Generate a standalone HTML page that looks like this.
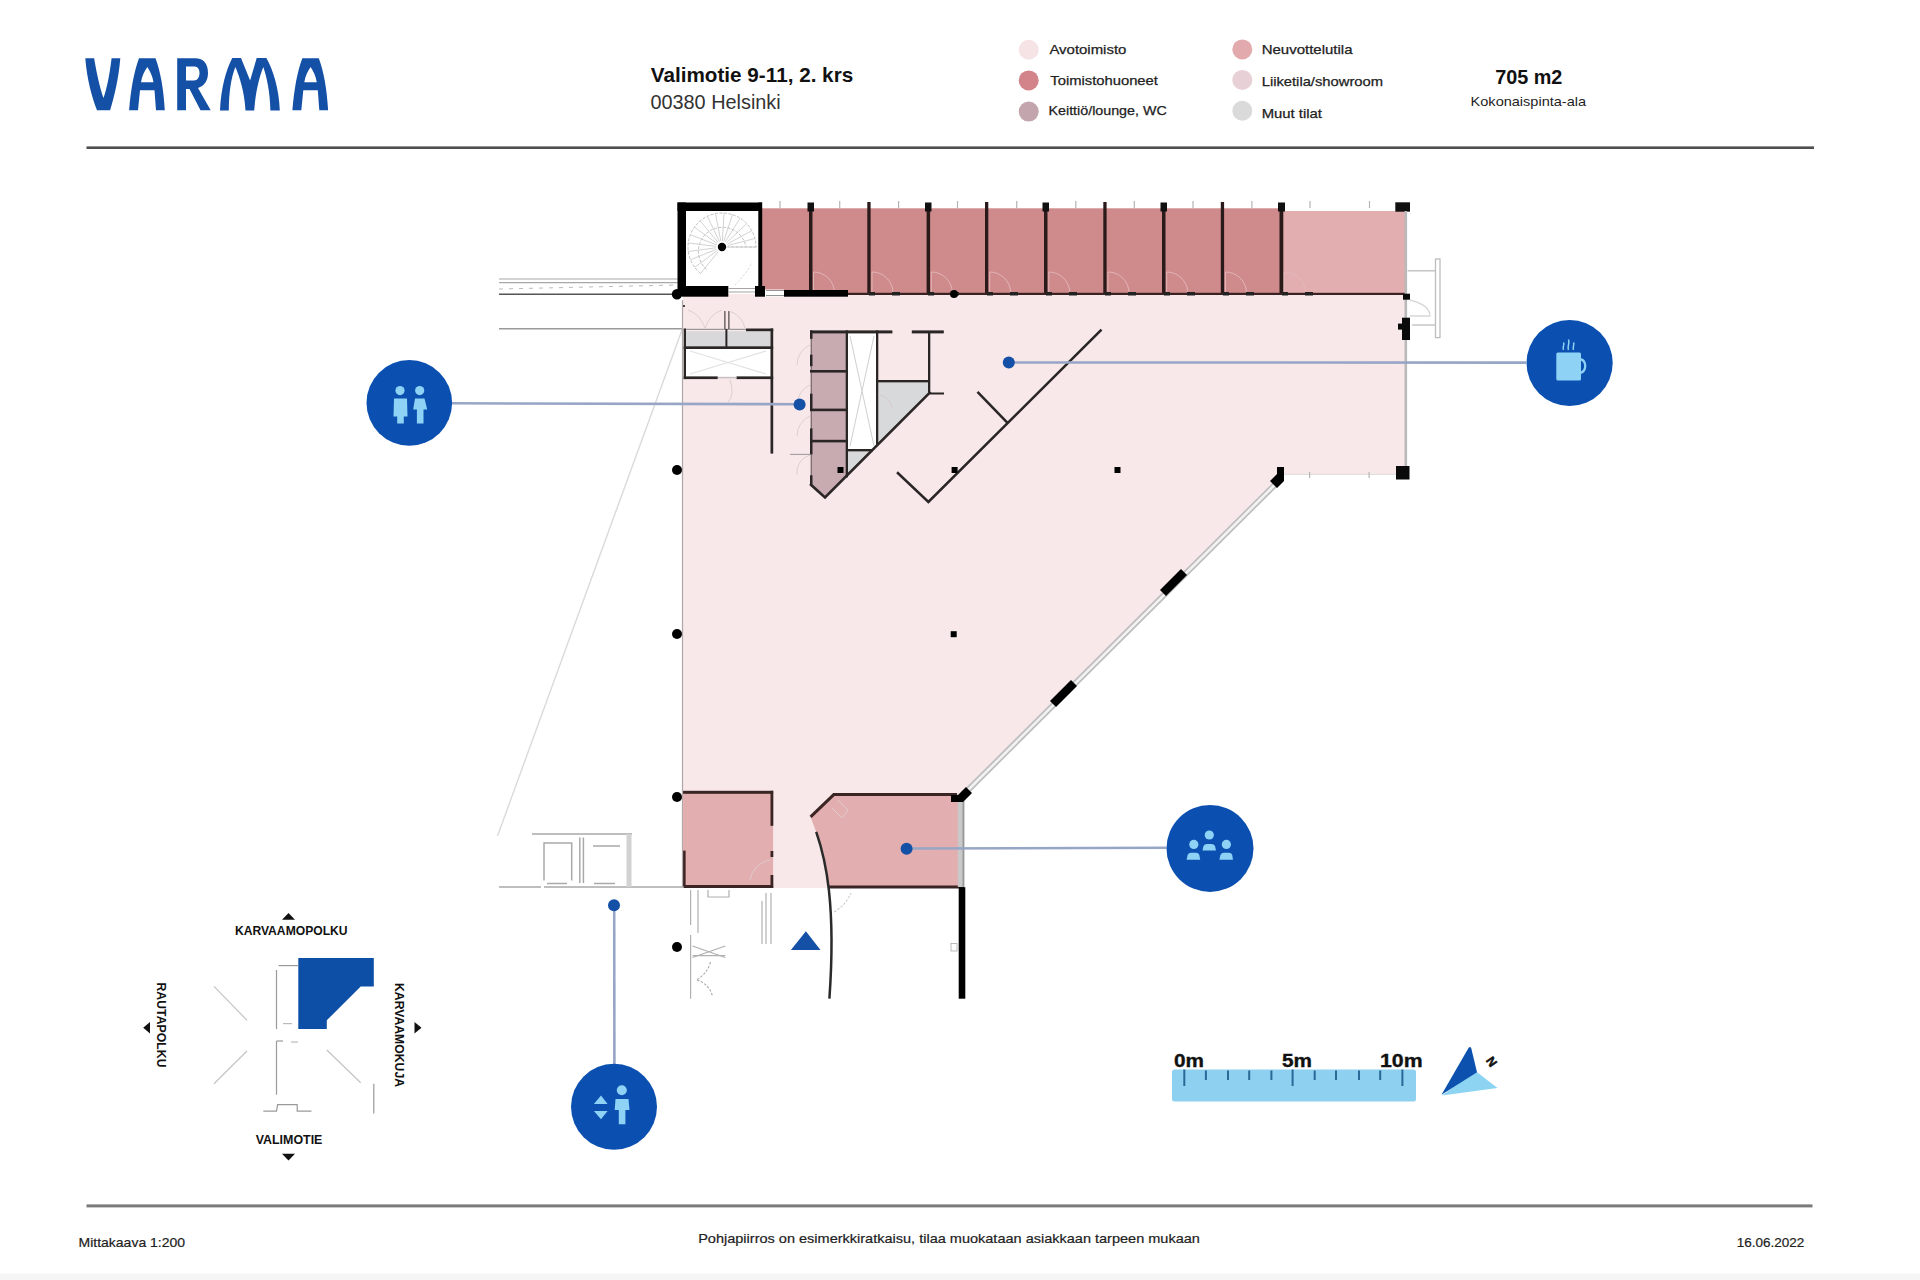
<!DOCTYPE html>
<html><head><meta charset="utf-8">
<style>
html,body{margin:0;padding:0;background:#fff;width:1920px;height:1280px;overflow:hidden}
svg{position:absolute;left:0;top:0;display:block}
text{font-family:"Liberation Sans",sans-serif}
</style></head><body>
<svg width="1920" height="1280" viewBox="0 0 1920 1280">
<rect x="0" y="1273.5" width="1920" height="6.5" fill="#f5f5f5"/>
<!-- LOGO -->
<g fill="#1450a6">
<path d="M85.3,58.2 L94.1,58.2 C97,75 100,88 103.5,98 C107,88 109.5,75 111.6,58.2 L120.3,58.2 C118.5,80 114,97 110.1,110.3 L97,110.3 C92,97 87,80 85.3,58.2 Z"/>
<path fill-rule="evenodd" d="M129.1,110.3 C131,88 134,72 139,58.2 L155.5,58.2 C160.5,72 163.5,88 164.8,110.3 L156,110.3 L154.5,90.3 L140,90.3 L138,110.3 Z M141,82.3 L153.5,82.3 C152.5,76 150,71 147.3,67 C144.5,71 142,76 141,82.3 Z"/>
<path fill-rule="evenodd" d="M177.2,110.3 L177.2,58.2 L195,58.2 C204,58.2 208,64 208,73 C208,81 204,86 198,88 L210.7,110.3 L200.5,110.3 L189.5,89 L186,89 L186,110.3 Z M186,66.5 L194.5,66.5 C198,66.5 199.5,69.5 199.5,73 C199.5,77 197.5,80.5 194,80.5 L186,80.5 Z"/>
<path d="M220,110.5 C221,88 226,70 232.3,58 L241,58 L250.1,80.5 L256.7,58 L266.4,58 C273,70 279,88 279.8,110.5 L270.4,110.5 C270,92 267,78 263.3,67 C259,78 255.5,92 254.2,110.5 L245.5,110.5 C244.5,92 240,78 235.4,67 C231,78 229,92 228.8,110.5 Z"/>
<path fill-rule="evenodd" transform="translate(163.3,0)" d="M129.1,110.3 C131,88 134,72 139,58.2 L155.5,58.2 C160.5,72 163.5,88 164.8,110.3 L156,110.3 L154.5,90.3 L140,90.3 L138,110.3 Z M141,82.3 L153.5,82.3 C152.5,76 150,71 147.3,67 C144.5,71 142,76 141,82.3 Z"/>
</g>
<!-- HEADER TEXT -->
<text x="650.8" y="82" font-size="20.5" font-weight="bold" fill="#111" textLength="202.4" lengthAdjust="spacingAndGlyphs">Valimotie 9-11, 2. krs</text>
<text x="650.4" y="108.9" font-size="19.5" fill="#333" textLength="130.3" lengthAdjust="spacingAndGlyphs">00380 Helsinki</text>
<!-- legend -->
<g>
<circle cx="1028.7" cy="49.8" r="10" fill="#f6e3e5"/>
<circle cx="1028.7" cy="80.4" r="10" fill="#d3838a"/>
<circle cx="1028.7" cy="111.6" r="10" fill="#c3a5ad"/>
<circle cx="1242.3" cy="49.4" r="10" fill="#e3aaae"/>
<circle cx="1242.3" cy="79.9" r="10" fill="#e8d1d6"/>
<circle cx="1242.3" cy="110.8" r="10" fill="#dadada"/>
</g>
<g font-size="13" fill="#222" stroke="#222" stroke-width="0.25">
<text x="1049.4" y="53.8" textLength="77" lengthAdjust="spacingAndGlyphs">Avotoimisto</text>
<text x="1050.3" y="85.2" textLength="107.6" lengthAdjust="spacingAndGlyphs">Toimistohuoneet</text>
<text x="1048.5" y="115.4" textLength="118.2" lengthAdjust="spacingAndGlyphs">Keittiö/lounge, WC</text>
<text x="1261.7" y="54" textLength="90.8" lengthAdjust="spacingAndGlyphs">Neuvottelutila</text>
<text x="1261.7" y="86.2" textLength="121.3" lengthAdjust="spacingAndGlyphs">Liiketila/showroom</text>
<text x="1261.7" y="117.5" textLength="60.3" lengthAdjust="spacingAndGlyphs">Muut tilat</text>
</g>
<text x="1495.2" y="84.2" font-size="19.8" font-weight="bold" fill="#111" textLength="67.2" lengthAdjust="spacingAndGlyphs">705 m2</text>
<text x="1470.6" y="105.6" font-size="13.3" fill="#1e1e1e" textLength="115.5" lengthAdjust="spacingAndGlyphs">Kokonaispinta-ala</text>
<rect x="86.5" y="146.4" width="1727.5" height="2.6" fill="#4f4f4f"/>
<!-- FOOTER -->
<rect x="86.5" y="1204.4" width="1726" height="3" fill="#7a7a7a"/>
<text x="78.5" y="1246.5" font-size="13" fill="#222" stroke="#222" stroke-width="0.2" textLength="106.6" lengthAdjust="spacingAndGlyphs">Mittakaava 1:200</text>
<text x="698.2" y="1242.8" font-size="13" fill="#222" stroke="#222" stroke-width="0.2" textLength="501.7" lengthAdjust="spacingAndGlyphs">Pohjapiirros on esimerkkiratkaisu, tilaa muokataan asiakkaan tarpeen mukaan</text>
<text x="1736.7" y="1246.5" font-size="13" fill="#222" stroke="#222" stroke-width="0.2" textLength="67.7" lengthAdjust="spacingAndGlyphs">16.06.2022</text>

<g id="plan">
<!-- external thin diagonal -->
<line x1="682" y1="330" x2="497.5" y2="836" stroke="#dadada" stroke-width="1.4"/>
<!-- left external lines -->
<g stroke="#a8a8a8" stroke-width="1.2">
<line x1="499" y1="279" x2="678" y2="279"/>
<line x1="499" y1="282.6" x2="678" y2="282.6"/>
</g>
<line x1="499" y1="289" x2="678" y2="285" stroke="#bbb" stroke-width="1" stroke-dasharray="4 6"/>
<line x1="499" y1="294.3" x2="678" y2="294.3" stroke="#555" stroke-width="1.6"/>
<line x1="499" y1="328.8" x2="683" y2="328.8" stroke="#999" stroke-width="1.5"/>

<!-- main open office -->
<path d="M683,294 L1405,294 L1405,474 L1282,474 L962,794 L962,887 L683,887 Z" fill="#f8e8e9"/>
<line x1="682.5" y1="300" x2="682.5" y2="887" stroke="#b0a8a8" stroke-width="1.2"/>
<!-- top offices -->
<rect x="762" y="208.3" width="520" height="85.7" fill="#cf8a8c"/>
<rect x="1282" y="211" width="123.3" height="83" fill="#e2aeaf"/>
<!-- office walls -->
<g fill="#2a1a1a">
<rect x="809" y="203" width="3.5" height="91"/>
<rect x="867.3" y="202" width="3.3" height="92"/>
<rect x="926.6" y="203" width="3.5" height="91"/>
<rect x="985" y="202" width="3.3" height="92"/>
<rect x="1044" y="203" width="3.5" height="91"/>
<rect x="1103.3" y="202" width="3.3" height="92"/>
<rect x="1162" y="203" width="3.5" height="91"/>
<rect x="1220.8" y="202" width="3.3" height="92"/>
<rect x="1279.5" y="203" width="3.8" height="91"/>
</g>
<g fill="#111">
<rect x="807.5" y="202.5" width="6.5" height="9"/>
<rect x="925" y="202.5" width="6.5" height="9"/>
<rect x="1042.5" y="202.5" width="6.5" height="9"/>
<rect x="1160.5" y="202.5" width="6.5" height="9"/>
<rect x="1278" y="202.5" width="7" height="9"/>
<rect x="1395.3" y="202.3" width="14.7" height="9.4"/>
</g>
<g stroke="#e3b9bb" stroke-width="0.9" fill="none"><path d="M813.5,292 L813.5,272 A21,21 0 0 1 834.5,292"/><path d="M872.0,292 L872.0,272 A21,21 0 0 1 893.0,292"/><path d="M931.3,292 L931.3,272 A21,21 0 0 1 952.3,292"/><path d="M989.7,292 L989.7,272 A21,21 0 0 1 1010.7,292"/><path d="M1048.8,292 L1048.8,272 A21,21 0 0 1 1069.8,292"/><path d="M1108.0,292 L1108.0,272 A21,21 0 0 1 1129.0,292"/><path d="M1166.7,292 L1166.7,272 A21,21 0 0 1 1187.7,292"/><path d="M1225.5,292 L1225.5,272 A21,21 0 0 1 1246.5,292"/><path d="M1284.3,292 L1284.3,272 A21,21 0 0 1 1305.3,292"/></g>
<rect x="762" y="292.8" width="643" height="2.2" fill="#3a2222"/>
<g fill="#222">
<rect x="987" y="292" width="6" height="3.5"/><rect x="1010" y="292" width="8" height="3.5"/>
<rect x="1046" y="292" width="6" height="3.5"/><rect x="1069" y="292" width="8" height="3.5"/>
<rect x="1105" y="292" width="6" height="3.5"/><rect x="1128" y="292" width="8" height="3.5"/>
<rect x="1164" y="292" width="6" height="3.5"/><rect x="1187" y="292" width="8" height="3.5"/>
<rect x="1223" y="292" width="6" height="3.5"/><rect x="1246" y="292" width="8" height="3.5"/>
<rect x="1282" y="292" width="6" height="3.5"/><rect x="1305" y="292" width="8" height="3.5"/>
<rect x="869" y="292" width="6" height="3.5"/><rect x="892" y="292" width="8" height="3.5"/>
<rect x="928" y="292" width="6" height="3.5"/><rect x="951" y="292" width="8" height="3.5"/>
</g>
<!-- right side -->
<rect x="1404.5" y="211" width="2.6" height="263" fill="#b9b9b9"/>
<g fill="#0a0a0a">
<rect x="1403" y="293.7" width="7" height="6"/>
<rect x="1402" y="317.7" width="8" height="22.3"/>
<rect x="1398" y="323.6" width="5" height="6"/>
<rect x="1396" y="466" width="13.5" height="13.5"/>
</g>
<g stroke="#bdbdbd" stroke-width="1.3" fill="none">
<rect x="1435.5" y="259" width="4.5" height="78.6"/>
<line x1="1407.6" y1="270.8" x2="1435.5" y2="270.8"/>
<line x1="1412" y1="325" x2="1435.5" y2="325"/>
<path d="M1410,300 Q1430,305 1430,316 L1410,316" stroke="#d8d8d8"/>
</g>
<line x1="1284" y1="474.4" x2="1396" y2="474.4" stroke="#ddd" stroke-width="1"/>

<g fill="#b5b5b5"><rect x="779.4" y="201" width="1.2" height="7" /><rect x="839.1" y="201" width="1.2" height="7" /><rect x="898.0" y="201" width="1.2" height="7" /><rect x="956.9" y="201" width="1.2" height="7" /><rect x="1016.1" y="201" width="1.2" height="7" /><rect x="1075.2" y="201" width="1.2" height="7" /><rect x="1133.7" y="201" width="1.2" height="7" /><rect x="1192.4" y="201" width="1.2" height="7" /><rect x="1251.3" y="201" width="1.2" height="7" /><rect x="1309.4" y="201" width="1.2" height="7" /><rect x="1368.9" y="201" width="1.2" height="7" /><rect x="1309" y="472" width="1.2" height="6"/><rect x="1368.5" y="472" width="1.2" height="6"/></g>
<!-- stair box -->
<g fill="#000">
<rect x="677.5" y="202.5" width="84.5" height="8.5"/>
<rect x="677.5" y="202.5" width="8.5" height="92"/>
<rect x="758.3" y="202.5" width="3.9" height="92"/>
<rect x="681.7" y="286" width="46.6" height="10.7"/>
<rect x="755" y="286" width="10" height="10.7"/>
<rect x="784" y="290" width="64" height="6.7"/>
</g>
<g stroke="#333" stroke-width="0.9">
<line x1="728" y1="288.5" x2="755" y2="288.5" stroke="#999"/><line x1="728" y1="292" x2="755" y2="292" stroke="#999"/>
<rect x="765" y="289.5" width="19" height="7" fill="#fff" stroke="none"/><line x1="766" y1="290.5" x2="784" y2="290.5" stroke="#888"/><line x1="766" y1="295.5" x2="784" y2="295.5" stroke="#888"/>
</g>
<g stroke="#b8b8b8" stroke-width="0.9" fill="none" stroke-dasharray="3 1.5">
<path d="M700.6,273.4 A34,34 0 1 1 756,247"/>
<path d="M722,247 L757,247"/>
<path d="M706.6,269.4 A24,24 0 1 1 746,247"/>
</g>
<g stroke="#c6c6c6" stroke-width="0.8" fill="none">
<line x1="718.2" y1="251.7" x2="700.6" y2="273.4"/><line x1="717.2" y1="250.6" x2="694.7" y2="267.3"/><line x1="716.4" y1="249.3" x2="690.5" y2="259.8"/><line x1="716.1" y1="247.8" x2="688.3" y2="251.5"/><line x1="716.0" y1="246.3" x2="688.2" y2="243.0"/><line x1="716.4" y1="244.8" x2="690.3" y2="234.7"/><line x1="717.1" y1="243.5" x2="694.4" y2="227.2"/><line x1="718.1" y1="242.4" x2="700.2" y2="220.9"/><line x1="719.4" y1="241.6" x2="707.4" y2="216.3"/><line x1="720.8" y1="241.1" x2="715.5" y2="213.6"/><line x1="722.4" y1="241.0" x2="724.0" y2="213.1"/><line x1="723.8" y1="241.3" x2="732.4" y2="214.6"/><line x1="725.2" y1="241.9" x2="740.1" y2="218.2"/><line x1="726.4" y1="242.9" x2="746.7" y2="223.7"/><line x1="727.3" y1="244.1" x2="751.8" y2="230.6"/><line x1="727.8" y1="245.5" x2="754.9" y2="238.5"/><line x1="728.0" y1="247.0" x2="756.0" y2="247.0"/>
<path d="M735,285 Q748,272 752,262" stroke-dasharray="2 2"/>
</g>
<circle cx="722" cy="247" r="4.2" fill="#000"/>

<!-- lobby box -->
<rect x="685.7" y="331.2" width="84.8" height="15.1" fill="#d8d8da"/>
<rect x="685.7" y="349" width="84.8" height="27.4" fill="#fff"/>
<g stroke="#e2e2e2" stroke-width="1.2"><line x1="690" y1="351" x2="766" y2="374"/><line x1="690" y1="374" x2="766" y2="351"/></g>
<line x1="683.7" y1="329.3" x2="746" y2="329.3" stroke="#9a9a9a" stroke-width="1.3"/>
<g fill="#2b2626">
<rect x="683.7" y="328.5" width="2.3" height="50.6"/>
<rect x="746" y="328.5" width="27.2" height="2.7"/>
<rect x="683.7" y="346.3" width="89.5" height="2.7"/>
<rect x="683.7" y="376.4" width="34" height="2.7"/>
<rect x="736.5" y="376.4" width="36.7" height="2.7"/>
<rect x="725.4" y="329" width="2" height="19"/>
<rect x="770.5" y="328.5" width="2.7" height="125.1"/>
<rect x="724.4" y="311" width="1" height="18"/>
<rect x="728.4" y="311" width="1" height="18"/>
</g>
<line x1="718" y1="377.7" x2="736.5" y2="377.7" stroke="#bbb" stroke-width="1.2"/>
<g stroke="#d8cccc" stroke-width="0.9" fill="none">
<path d="M688,310 Q700,314 705,328"/><path d="M722,310 Q710,314 705,328"/>
<path d="M729,311 Q742,315 745,328"/>
<path d="M730,380 Q735,395 728,402"/>
</g>
<rect x="683" y="305" width="2" height="2" fill="#444"/>

<!-- WC column -->
<path d="M811,332 L847,332 L847,474.4 L825,497 L811,485 Z" fill="#c8abb1"/>
<rect x="848" y="333.4" width="28" height="115.6" fill="#fff"/>
<g stroke="#d0d0d0" stroke-width="1"><line x1="850" y1="336" x2="874" y2="446"/><line x1="850" y1="446" x2="874" y2="336"/></g>
<path d="M848,451.4 L871,451.4 L848,474.4 Z" fill="#d8d9da"/>
<path d="M878.3,382.4 L928.8,382.4 L928.8,393.6 L878.3,444.1 Z" fill="#d8d9da"/>
<g fill="#2b2626">
<rect x="810" y="330.4" width="82.4" height="3"/>
<rect x="911.8" y="330.4" width="32" height="3"/>
<rect x="810.6" y="330.4" width="1.3" height="154.4" fill="#7a6a6a"/><rect x="810" y="330.4" width="2.5" height="8.4"/><rect x="810" y="354.7" width="2.5" height="11.5"/><rect x="810" y="393.7" width="2.5" height="17.3"/><rect x="810" y="428.4" width="2.5" height="26"/><rect x="810" y="475.3" width="2.5" height="9.5"/>
<rect x="845.7" y="330.4" width="2.3" height="147"/>
<rect x="810" y="370" width="37" height="2.6"/>
<rect x="810" y="408.6" width="37" height="2.6"/>
<rect x="810" y="439.8" width="37" height="2.6"/>
<rect x="876" y="330.4" width="2.3" height="114.3"/>
<rect x="846" y="449" width="27" height="2.4"/>
<rect x="878" y="380" width="51" height="2.4"/>
<rect x="928" y="332.6" width="2.3" height="60.2"/>
<rect x="929.6" y="392.5" width="14.4" height="2"/>
</g>
<g stroke="#2b2626" stroke-width="2.6" fill="none" stroke-linecap="square">
<polyline points="811,484.8 825,497.4 929.6,392.8"/>
<polyline points="898,473.2 928.4,502 1100.6,330.5"/>
<line x1="978.4" y1="392.8" x2="1007.1" y2="422.4"/>
</g>
<g stroke="#d5c8c8" stroke-width="0.8" fill="none">
<path d="M810,345 A22,22 0 0 0 797,365"/>
<path d="M810,385 A22,22 0 0 0 797,405"/>
<path d="M810,416 A22,22 0 0 0 797,436"/>
<path d="M810,455 A18,18 0 0 0 797,475"/>
<path d="M878,395 A14,14 0 0 1 892,409"/>
</g>

<line x1="790" y1="454.4" x2="810" y2="454.4" stroke="#999" stroke-width="1"/>
<!-- exterior diagonal -->
<line x1="964" y1="794" x2="1278.5" y2="481.2" stroke="#bdbdbd" stroke-width="6"/>
<line x1="964" y1="794" x2="1278.5" y2="481.2" stroke="#f2f2f2" stroke-width="2.6"/>
<g fill="#000">
<path d="M1270,481 L1277,488 L1284,481 L1284,467 L1277,467 L1277,474 Z"/>
<path d="M1165,586 L1186,565 L1192,571 L1171,592 Z" transform="translate(-5,4)"/>
<path d="M1055,697 L1076,676 L1082,682 L1061,703 Z" transform="translate(-5,4)"/>
</g>

<!-- bottom rooms -->
<rect x="683.1" y="791.6" width="90" height="95.6" fill="#e2aeaf"/>
<path d="M833.1,794.4 L958,794.4 L958,887 L828.4,887 C826,860 822,845 816.2,831.9 L810.6,816.9 Z" fill="#e2aeaf"/>
<rect x="773" y="887" width="56" height="1" fill="#f8e8e9"/>
<g fill="#3a2424">
<rect x="683.1" y="790.8" width="90" height="3"/>
<rect x="770.5" y="790.8" width="2.8" height="35"/>
<rect x="770.5" y="851" width="2.8" height="6"/>
<rect x="770.5" y="875" width="2.8" height="13"/>
<rect x="683.1" y="850.6" width="2.5" height="37"/>
<rect x="683.1" y="885" width="90" height="3"/>
<rect x="828" y="885.5" width="136" height="3"/>
<rect x="833" y="793" width="124" height="3"/>
</g>
<g stroke="#3a2424" stroke-width="3" fill="none">
<line x1="834" y1="794.4" x2="810.6" y2="816.9"/>
</g>
<path d="M816.2,831.9 C826,860 836,905 829.4,998.7" stroke="#2a2a2a" stroke-width="2.5" fill="none"/>
<rect x="957.8" y="800" width="6.5" height="87" fill="#c9c9c9"/>
<rect x="962.5" y="800" width="1.8" height="87" fill="#999"/>
<rect x="958.7" y="887.2" width="6.6" height="111.5" fill="#000"/>
<path d="M951,795 L958,795 L966,787 L972,793 L963,802 L951,802 Z" fill="#000"/>
<rect x="951" y="943.4" width="6" height="7.6" fill="#fff" stroke="#aaa" stroke-width="0.8"/>
<path d="M790.9,950 L805.9,931.2 L820.5,950 Z" fill="#1450a6"/>
<g stroke="#e0d0d0" stroke-width="0.8" fill="none">
<path d="M838,800 L848,810 L842,818 L832,808"/>
<path d="M770,860 A25,25 0 0 0 750,880"/>
</g>

<!-- lower left external structure -->
<g stroke="#a9a9a9" stroke-width="1.5" fill="none">
<line x1="499" y1="886.9" x2="541" y2="886.9"/>
<line x1="544" y1="886.9" x2="684" y2="886.9"/>
<line x1="532" y1="833.9" x2="632" y2="833.9"/>
<line x1="579.8" y1="837.5" x2="579.8" y2="883"/>
<line x1="583.4" y1="837.5" x2="583.4" y2="883"/>
<path d="M544,880.6 L544,843 L571.7,843 L571.7,880.6"/>
<line x1="593" y1="846" x2="620" y2="846"/>
<line x1="547" y1="883.5" x2="567" y2="883.5"/>
<line x1="594" y1="883.5" x2="615" y2="883.5"/>
</g>
<rect x="626.5" y="834" width="5" height="53" fill="#d2d2d2"/>
<g stroke="#b0b0b0" stroke-width="1.2" fill="none">
<line x1="690.6" y1="890" x2="690.6" y2="925"/>
<line x1="698" y1="890" x2="698" y2="933"/>
<path d="M708,890 L708,897 L729,897 L729,890"/>
<line x1="690.6" y1="935" x2="690.6" y2="998.7"/>
<line x1="692.5" y1="946" x2="725.3" y2="957.5"/>
<line x1="692.5" y1="957.5" x2="725.3" y2="946"/>
<line x1="692.5" y1="955.6" x2="725.3" y2="955.6"/>
<line x1="762" y1="901" x2="762" y2="944"/>
<line x1="766" y1="893" x2="766" y2="944"/>
<line x1="771" y1="893" x2="771" y2="944"/>
<path d="M710.5,962 Q707,974 697,979.5" stroke-dasharray="2.5 1.5"/>
<path d="M697,980 Q709,984 712.5,996" stroke-dasharray="2.5 1.5"/>
<path d="M834,912 Q846,905 851,893" stroke="#d0d0d0" stroke-dasharray="2.5 1.5"/>
</g>
</g>

<!-- column dots -->
<g fill="#000">
<circle cx="677" cy="294.3" r="5.2"/>
<circle cx="954" cy="294" r="4"/>
<circle cx="677" cy="470" r="5"/>
<circle cx="677" cy="634" r="5"/>
<circle cx="677" cy="797" r="5"/>
<circle cx="677" cy="947" r="5"/>
<rect x="837.5" y="467" width="6" height="6"/>
<rect x="951.6" y="467" width="6" height="6"/>
<rect x="1114.5" y="467" width="6" height="6"/>
<rect x="950.7" y="631.2" width="6" height="6"/>
</g>

<!-- connector lines -->
<g stroke="#97a6c6" stroke-width="2.6" fill="none">
<line x1="452" y1="403.3" x2="799" y2="404.2"/>
<line x1="1009" y1="362.5" x2="1526" y2="362.6"/>
<line x1="906.6" y1="848.5" x2="1166.5" y2="847.8"/>
<line x1="614.2" y1="905.5" x2="614.4" y2="1064"/>
</g>
<g fill="#1450a6">
<circle cx="799.6" cy="404.4" r="6"/>
<circle cx="1008.8" cy="362.5" r="6"/>
<circle cx="906.6" cy="848.7" r="6"/>
<circle cx="614" cy="905.2" r="6"/>
</g>

<!-- icon circles -->
<g fill="#0b50b0">
<circle cx="409.3" cy="402.9" r="42.8"/>
<circle cx="1569.6" cy="363" r="43.1"/>
<circle cx="1210" cy="848.4" r="43.5"/>
<circle cx="614" cy="1106.8" r="43"/>
</g>
<g fill="#8ed2f5">
<!-- toilet -->
<circle cx="400" cy="390.6" r="4.6"/>
<path d="M394,398.6 L407,398.6 L407.5,416.5 L403.8,416.5 L403.8,423.5 L397.2,423.5 L397.2,416.5 L393.5,416.5 Z"/>
<circle cx="419.7" cy="390.6" r="4.6"/>
<path d="M415,398.6 L424.5,398.6 L427.2,409.4 L423.5,409.4 L423.5,423.5 L416.9,423.5 L416.9,409.4 L413.2,409.4 Z"/>
<!-- coffee -->
<rect x="1556.3" y="352.6" width="24.7" height="28" rx="1.5"/>
<path d="M1580,358 C1588.5,358 1588.5,374 1580,374 L1580,371.5 C1585.5,371.5 1585.5,360.5 1580,360.5 Z"/>
<path d="M1563.5,350 C1562,347 1565,345 1563.5,342.5 M1568.5,350 C1567,346 1570,343.5 1568.5,339.5 M1573.5,350 C1572,347 1575,345 1573.5,342.5" stroke="#8ed2f5" stroke-width="1.5" fill="none"/>
<!-- meeting -->
<circle cx="1209.3" cy="835" r="4.6"/>
<path d="M1202.5,850.5 L1203.5,846 Q1204.5,843.9 1207,843.9 L1211.5,843.9 Q1214,843.9 1215,846 L1216,850.5 Z"/>
<circle cx="1193.8" cy="844.4" r="4.6"/>
<path d="M1186.6,859.8 L1187.6,855 Q1188.6,852.8 1191,852.8 L1196,852.8 Q1198.5,852.8 1199.3,855 L1200.2,859.8 Z"/>
<circle cx="1226.4" cy="844.4" r="4.6"/>
<path d="M1219.4,859.8 L1220.4,855 Q1221.4,852.8 1224,852.8 L1229,852.8 Q1231.5,852.8 1232.2,855 L1233,859.8 Z"/>
<!-- elevator -->
<path d="M601,1095.4 L607.6,1104 L593.9,1104 Z"/>
<path d="M593.9,1111 L607.6,1111 L601,1119.3 Z"/>
<circle cx="621.8" cy="1090.3" r="5"/>
<path d="M615.5,1099 L628.5,1099 L629.5,1110 L625.4,1110 L625.4,1124.3 L618.8,1124.3 L618.8,1110 L614.7,1110 Z"/>
</g>


<!-- COMPASS / LOCATION -->
<g id="compass">
<path d="M282,919.7 L288.5,913 L295,919.7 Z" fill="#111"/>
<text x="234.9" y="935" font-size="12.5" font-weight="bold" fill="#111" textLength="112.7" lengthAdjust="spacingAndGlyphs">KARVAAMOPOLKU</text>
<path d="M298.3,958 L373.8,958 L373.8,986.4 L360.7,986.4 L326.8,1020.3 L326.8,1029 L298.3,1029 Z" fill="#0d4fa6"/>
<g stroke="#9a9a9a" stroke-width="1.2" fill="none">
<line x1="276.5" y1="970" x2="276.5" y2="1029"/>
<line x1="278.6" y1="965.6" x2="298.3" y2="965.6"/>
<line x1="283" y1="1023.6" x2="292" y2="1023.6" stroke="#bbb"/>
<line x1="276.5" y1="1041" x2="276.5" y2="1094.7"/>
<line x1="276.5" y1="1041" x2="283" y2="1041"/>
<line x1="291" y1="1042" x2="298" y2="1042" stroke="#bbb"/>
<path d="M263.3,1111.2 L276.5,1111.2 L277.6,1104.6 L297.2,1104.6 L297.2,1111.2 L311.5,1111.2"/>
<line x1="373.8" y1="1083.8" x2="373.8" y2="1113.4"/>
</g>
<g stroke="#c4c4c4" stroke-width="1.2">
<line x1="214" y1="986.4" x2="247" y2="1020.3"/>
<line x1="214" y1="1083.8" x2="247" y2="1051"/>
<line x1="326.8" y1="1050" x2="360.7" y2="1082.7"/>
</g>
<text x="255.7" y="1144" font-size="12.5" font-weight="bold" fill="#111" textLength="66.7" lengthAdjust="spacingAndGlyphs">VALIMOTIE</text>
<path d="M282,1153.8 L295,1153.8 L288.5,1160.4 Z" fill="#111"/>
<text transform="translate(156.9,982.5) rotate(90)" x="0" y="0" font-size="12.5" font-weight="bold" fill="#111" textLength="85" lengthAdjust="spacingAndGlyphs">RAUTAPOLKU</text>
<path d="M150,1022 L150,1033.6 L143.2,1027.8 Z" fill="#111"/>
<text transform="translate(394.6,983) rotate(90)" x="0" y="0" font-size="12.5" font-weight="bold" fill="#111" textLength="104" lengthAdjust="spacingAndGlyphs">KARVAAMOKUJA</text>
<path d="M414.5,1022 L414.5,1033.6 L421.5,1027.8 Z" fill="#111"/>
</g>

<!-- SCALE BAR -->
<g id="scale">
<rect x="1172" y="1069.5" width="244" height="32" rx="2.5" fill="#8dd0ef"/>
<g fill="#2a6898">
<rect x="1183.3" y="1069.5" width="2" height="16.5"/>
<rect x="1291.6" y="1069.5" width="2" height="16.5"/>
<rect x="1401.4" y="1069.5" width="2" height="16.5"/>
<rect x="1204.9" y="1070.5" width="2" height="9.5"/>
<rect x="1227" y="1070.5" width="2" height="9.5"/>
<rect x="1248.2" y="1070.5" width="2" height="9.5"/>
<rect x="1270.4" y="1070.5" width="2" height="9.5"/>
<rect x="1313.7" y="1070.5" width="2" height="9.5"/>
<rect x="1335" y="1070.5" width="2" height="9.5"/>
<rect x="1358" y="1070.5" width="2" height="9.5"/>
<rect x="1379.2" y="1070.5" width="2" height="9.5"/>
</g>
<g font-size="18.5" font-weight="bold" fill="#111" stroke="#111" stroke-width="0.35">
<text x="1174" y="1066.6" textLength="30" lengthAdjust="spacingAndGlyphs">0m</text>
<text x="1282" y="1066.6" textLength="30" lengthAdjust="spacingAndGlyphs">5m</text>
<text x="1380" y="1066.6" textLength="42.6" lengthAdjust="spacingAndGlyphs">10m</text>
</g>
<path d="M1475.5,1071 L1497.5,1088 L1442,1095.5 Z" fill="#8dd3f2"/>
<path d="M1468.5,1048 Q1470,1046 1471.2,1048 L1477,1072.3 L1441.5,1094.8 Z" fill="#0c51ad"/>
<text transform="translate(1485.5,1060.5) rotate(55)" font-size="12.5" font-weight="bold" fill="#111" stroke="#111" stroke-width="0.5">N</text>
</g>
</svg>
</body></html>
